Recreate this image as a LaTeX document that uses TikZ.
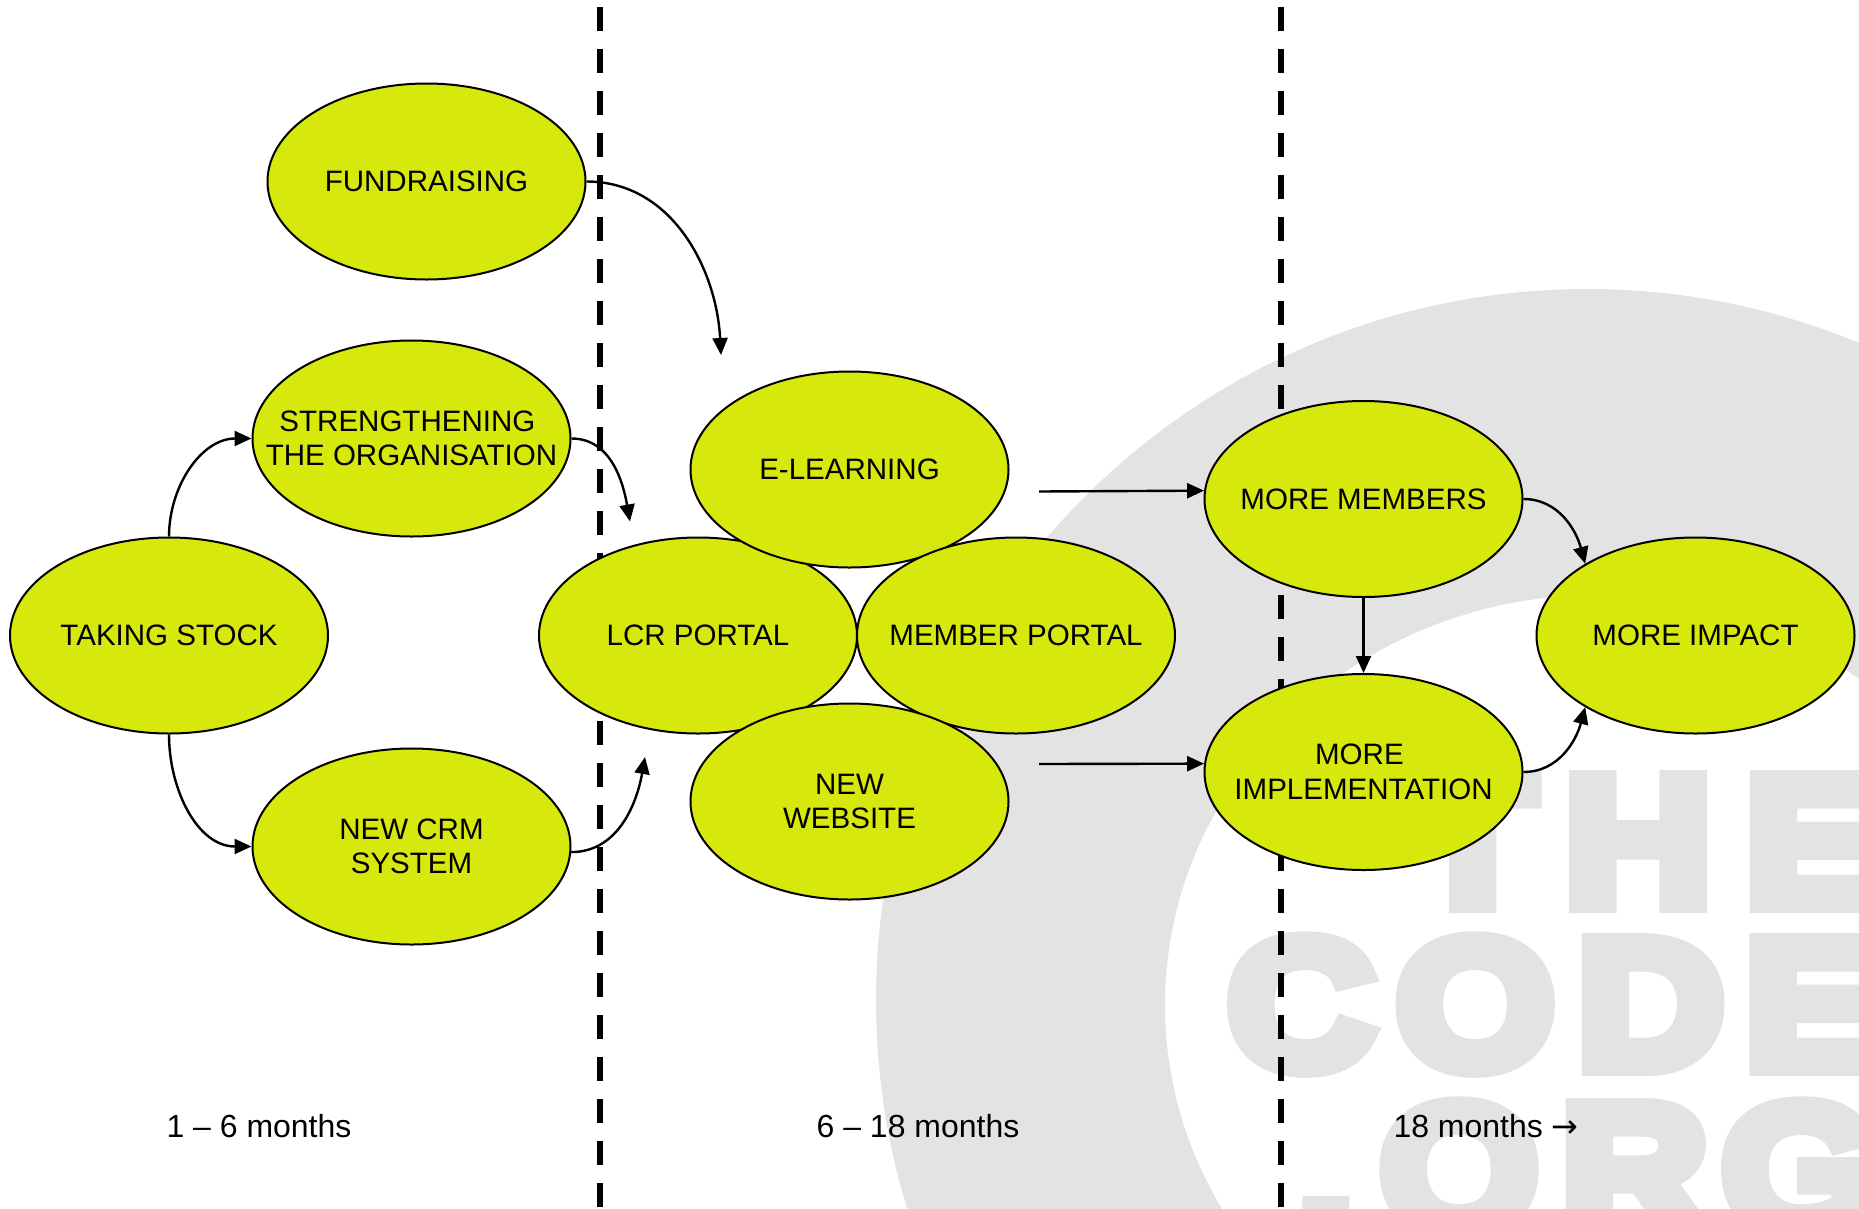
\documentclass[tikz,border=0pt]{standalone}
\usepackage{fontspec}
\setmainfont{Liberation Sans}
\newfontfamily\markfont[FakeBold=10,FakeStretch=1.12]{Liberation Sans Bold}
\newfontfamily\arrowfont{DejaVu Sans}
\usetikzlibrary{arrows.meta,shapes.geometric}
\definecolor{bubblegreen}{HTML}{D6E80C}
\definecolor{markgray}{HTML}{E3E3E3}
\tikzset{
  bubble/.style={ellipse,draw,fill=bubblegreen,line width=0.02cm,minimum width=3.18cm,minimum height=1.96cm,inner sep=-0.4cm,align=center,font=\fontsize{8.4}{9.8}\selectfont},
  period/.style={font=\fontsize{9.1}{10}\selectfont},
  cutline/.style={line width=0.06cm,dash pattern=on 0.24cm off 0.18cm},
  link/.style={->,line width=0.024cm},
  markword/.style={anchor=base west,inner sep=0pt,text=markgray,font=\markfont\fontsize{51.6}{52}\selectfont}
}
\begin{document}
\begin{tikzpicture}[>={Triangle[length=0.17cm,width=0.15cm]}]
      \useasboundingbox (0,0) rectangle (18.59,12.08);
      % watermark
      \begin{scope}
        \clip (0,0) rectangle (18.59,12.08);
        \fill[markgray,even odd rule] (15.87,2.08) circle (7.11) (15.97,2.03) ellipse (4.32 and 4.10);
        \node[markword] (markthe) at (14.10,3.04) {T\kern0.30cm H\kern0.34cm E};
        \node[markword] (markcode) at (12.27,1.41) {C\kern0.22cm O\kern0.23cm D\kern0.21cm E};
        \node[markword] (markorg) at (12.97,-0.24) {.\kern0.26cm O\kern0.23cm R\kern0.14cm G};
      \end{scope}
      % time cuts
      \coordinate (cutatop) at (6.00,12.01);
      \coordinate (cutabot) at (6.00,0);
      \coordinate (cutbtop) at (12.81,12.01);
      \coordinate (cutbbot) at (12.81,0);
      \draw[cutline] (cutatop) -- (cutabot);
      \draw[cutline] (cutbtop) -- (cutbbot);
      % 1 - 6 months
      \node[bubble] (stock) at (1.69,5.725) {TAKING STOCK};
      \node[bubble] (fund) at (4.265,10.265) {FUNDRAISING};
      \node[bubble] (strength) at (4.115,7.695) {\mbox{STRENGTHENING\ }\\THE ORGANISATION};
      \node[bubble] (crm) at (4.115,3.615) {NEW CRM\\SYSTEM};
      % 6 - 18 months
      \node[bubble] (lcr) at (6.98,5.725) {LCR PORTAL};
      \node[bubble] (elearn) at (8.495,7.385) {E-LEARNING};
      \node[bubble] (memberp) at (10.16,5.725) {MEMBER PORTAL};
      \node[bubble] (website) at (8.495,4.065) {NEW\\WEBSITE};
      % 18 months on
      \node[bubble] (members) at (13.635,7.09) {MORE MEMBERS};
      \node[bubble] (impl) at (13.635,4.36) {\mbox{MORE\ }\\IMPLEMENTATION};
      \node[bubble] (impact) at (16.955,5.725) {MORE IMPACT};
      % free ends
      \coordinate (fundtip) at (7.21,8.53);
      \coordinate (strengthtip) at (6.30,6.865);
      \coordinate (crmtip) at (6.45,4.51);
      \coordinate (elearnout) at (10.39,7.165);
      \coordinate (websiteout) at (10.39,4.44);
      \draw[link] (stock.north) to[out=90,in=180] (strength.west); % stock -> strength
      \draw[link] (stock.south) to[out=-90,in=180] (crm.west); % stock -> crm
      \draw[link] (fund.east) to[out=0,in=93] (fundtip); % fund -> elearning
      \draw[link] (strength.east) to[out=0,in=100] (strengthtip); % strength -> lcr
      \draw[link] (crm.-2.5) to[out=0,in=-100] (crmtip); % crm -> lcr
      \draw[link] (elearnout) -- (members.177.3); % elearning -> members
      \draw[link] (websiteout) -- (impl.177.1); % website -> impl
      \draw[link] (members.south) -- (impl.north); % members -> impl
      \draw[link] (members.east) to[out=0,in=105] (impact.147); % members -> impact
      \draw[link] (impl.east) to[out=0,in=-105] (impact.-147); % impl -> impact
      % periods
      \node[period] (perioda) at (2.59,0.82) {1 – 6 months};
      \node[period] (periodb) at (9.18,0.82) {6 – 18 months};
      \node[period] (periodc) at (14.86,0.82) {18 months {\arrowfont →}};
    \end{tikzpicture}
\end{document}
